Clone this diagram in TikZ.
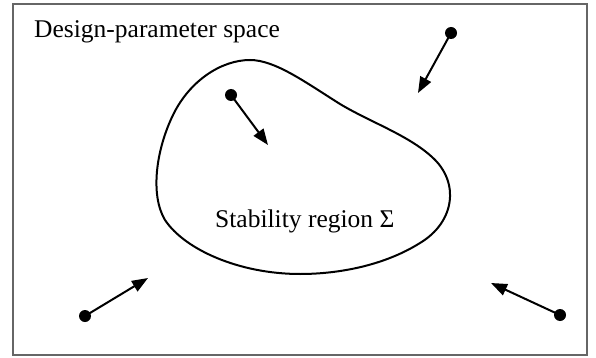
\documentclass[tikz,border=0pt]{standalone}
\usepackage{fontspec}
\setmainfont{Liberation Serif}
\usetikzlibrary{arrows.meta}
\begin{document}
\begin{tikzpicture}[x=1pt,y=-1pt,
  lbl/.style={font=\fontsize{25.5}{30}\selectfont, inner sep=0pt, anchor=base west},
  pt/.style={circle, fill=black, inner sep=0pt, minimum size=12pt},
  arr/.style={line width=2pt, -{Triangle[length=16pt,width=12pt]}}]
\useasboundingbox (0,0) rectangle (596,358);
\draw[line width=1.5pt, draw=black!60] (13,4) rectangle (587,355);
\node[lbl] (title) at (34,38) {Design-parameter space};
\draw[line width=2pt] (250,60)
  .. controls (275,60) and (305,82) .. (340,104)
  .. controls (370,122) and (408,135) .. (432,157)
  .. controls (460,182) and (455,222) .. (420,243)
  .. controls (385,265) and (340,274) .. (300,274)
  .. controls (240,274) and (185,250) .. (165,220)
  .. controls (150,195) and (156,150) .. (173,115)
  .. controls (190,80) and (222,60) .. (250,60) -- cycle;
\node[lbl] (sr) at (215,227) {Stability region Σ};
\node[pt] (p1) at (231,95) {};
\coordinate (t1) at (268,145);
\node[pt] (p2) at (451,33) {};
\coordinate (t2) at (418,93);
\node[pt] (p3) at (85,316) {};
\coordinate (t3) at (148,278);
\node[pt] (p4) at (560,315) {};
\coordinate (t4) at (491,283);
\draw[arr] (p1.center) -- (t1);
\draw[arr] (p2.center) -- (t2);
\draw[arr] (p3.center) -- (t3);
\draw[arr] (p4.center) -- (t4);
\end{tikzpicture}
\end{document}
